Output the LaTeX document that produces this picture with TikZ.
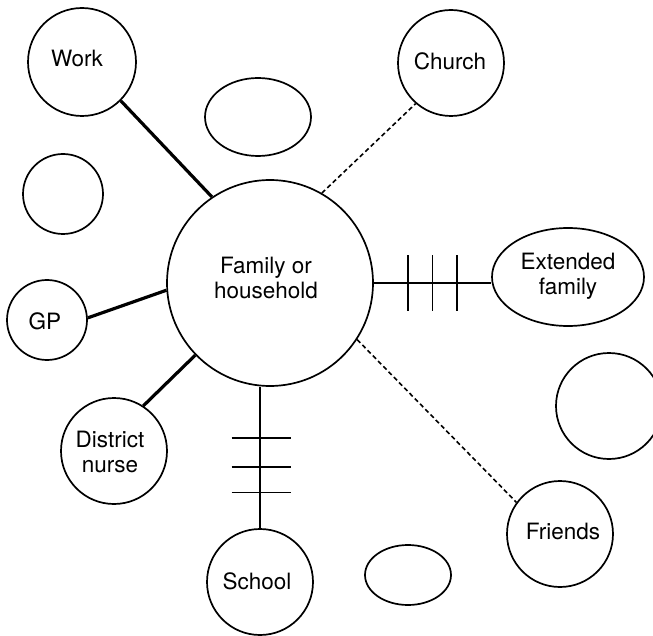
\documentclass[tikz,border=0pt]{standalone}
\usepackage{fontspec}
\setmainfont{TeX Gyre Heros}
\usetikzlibrary{shapes.geometric}
\begin{document}
\begin{tikzpicture}[x=1pt,y=-1pt,
  every node/.style={font=\fontsize{22.5}{25}\selectfont, align=center, inner sep=0pt},
  ring/.style={circle, draw, line width=1.7pt, minimum size=#1},
  oval/.style={ellipse, draw, line width=1.7pt},
  strong/.style={line width=3.2pt},
  weak/.style={line width=1.6pt, dash pattern=on 4.5pt off 3pt},
  stressed/.style={line width=1.7pt},
  tick/.style={line width=1.7pt}]
\useasboundingbox (0,0) rectangle (653,636);

% central household and its network
\node[ring=206] (fam) at (270,283) {};
\node[ring=108] (work) at (82,62) {};
\node[ring=106] (church) at (451,63) {};
\node[oval, minimum width=152, minimum height=98] (ext) at (568,277) {};
\node[ring=80] (gp) at (47,320) {};
\node[ring=106] (nurse) at (114,451) {};
\node[ring=106] (school) at (260,582) {};
\node[ring=106] (friends) at (560,534) {};

% names written inside the rings
\node (famtext) at (266,278) {Family or\\household};
\node (worktext) at (77,58) {Work};
\node (churchtext) at (450,61) {Church};
\node (exttext) at (568,276) {Extended\\family};
\node (gptext) at (45,321) {GP};
\node (nursetext) at (110,452) {District\\nurse};
\node (schooltext) at (257,581) {School};
\node (friendstext) at (563,531) {Friends};

% empty slots
\node[oval, minimum width=106, minimum height=78] (e1) at (258,117) {};
\node[ring=80] (e2) at (63,194) {};
\node[ring=106] (e3) at (609,406) {};
\node[oval, minimum width=86, minimum height=60] (e4) at (408,575) {};

% strong ties
\draw[strong] (fam.124) -- (work.-45);
\draw[strong] (fam.184) -- (gp.3);
\draw[strong] (fam.224) -- (nurse.57);

% weak ties
\draw[weak] (fam.60) -- (church.229);
\draw[weak] (fam.-33) -- (friends.144);

% stressful ties
\draw[stressed] (fam.east) -- (fam.east -| ext.west)
  coordinate[pos=0.29] (x1) coordinate[pos=0.50] (x2) coordinate[pos=0.71] (x3);
\foreach \t in {x1,x2,x3}
  \draw[tick] ([yshift=27.5]\t) -- ([yshift=-27.5]\t);

\draw[stressed] (school.north) -- (school.north |- fam.south)
  coordinate[pos=0.252] (y1) coordinate[pos=0.434] (y2) coordinate[pos=0.636] (y3);
\foreach \t in {y1,y2,y3}
  \draw[tick] ([xshift=-28.5]\t) -- ([xshift=30.5]\t);
\end{tikzpicture}
\end{document}
